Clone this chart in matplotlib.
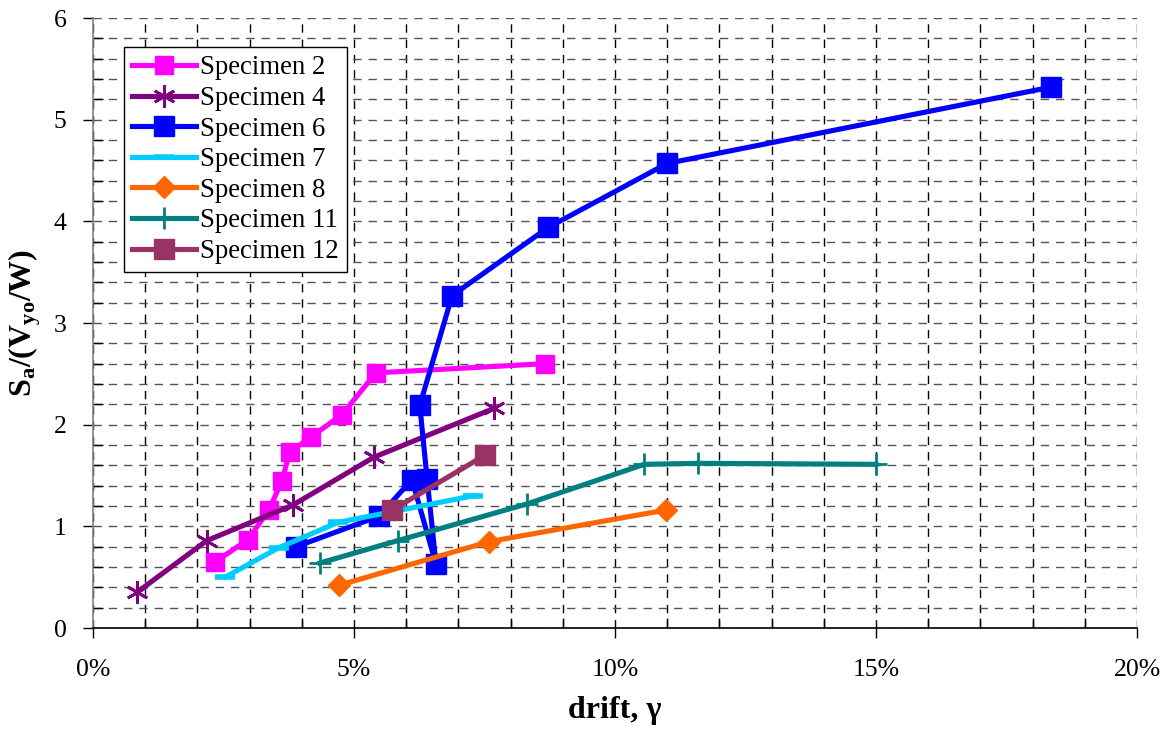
import matplotlib
matplotlib.use("Agg")
import matplotlib.pyplot as plt
from matplotlib.ticker import MultipleLocator, FuncFormatter

plt.rcParams['font.family'] = ['Liberation Serif', 'DejaVu Serif']
plt.rcParams['mathtext.fontset'] = 'custom'
plt.rcParams['mathtext.rm'] = 'Liberation Serif'
plt.rcParams['mathtext.bf'] = 'Liberation Serif:bold'

# drift in %, strength ratio
spec2_x = [2.34, 2.97, 3.37, 3.62, 3.77, 4.18, 4.77, 5.42, 8.66]
spec2_y = [0.65, 0.87, 1.16, 1.45, 1.73, 1.88, 2.10, 2.51, 2.60]
spec4_x = [0.84, 2.18, 3.83, 5.38, 7.68]
spec4_y = [0.35, 0.86, 1.21, 1.68, 2.16]
spec6_x = [3.89, 5.48, 6.11, 6.57, 6.40, 6.26, 6.88, 8.72, 11.0, 18.35]
spec6_y = [0.80, 1.10, 1.46, 0.63, 1.47, 2.19, 3.27, 3.94, 4.57, 5.32]
spec7_x = [2.53, 3.56, 4.70, 7.28]
spec7_y = [0.50, 0.79, 1.04, 1.30]
spec8_x = [4.71, 7.59, 10.97]
spec8_y = [0.42, 0.85, 1.16]
spec11_x = [4.35, 5.84, 8.31, 10.56, 11.59, 15.0]
spec11_y = [0.64, 0.86, 1.22, 1.61, 1.62, 1.61]
spec12_x = [5.73, 7.51]
spec12_y = [1.16, 1.70]

fig = plt.figure(figsize=(11.67, 7.3), dpi=100)
ax = fig.add_axes([0.0797, 0.1397, 0.8946, 0.8356])

lw = 3.7
ax.plot(spec2_x, spec2_y, color='#FF00FF', lw=lw, marker='s', ms=13.5, label='Specimen 2', zorder=5)
ax.plot(spec4_x, spec4_y, color='#800080', lw=lw, marker=(6, 2, 0), ms=16, mew=2, label='Specimen 4', zorder=5)
ax.plot(spec6_x, spec6_y, color='#0000FF', lw=lw, marker='s', ms=15, label='Specimen 6', zorder=5)
ax.plot(spec7_x, spec7_y, color='#00CCFF', lw=lw, marker='_', ms=14, mew=4, label='Specimen 7', zorder=5)
ax.plot(spec8_x, spec8_y, color='#FF6600', lw=lw, marker='D', ms=11, label='Specimen 8', zorder=5)
ax.plot(spec11_x, spec11_y, color='#008080', lw=lw, marker='+', ms=16, mew=2, label='Specimen 11', zorder=5)
ax.plot(spec12_x, spec12_y, color='#993366', lw=lw, marker='s', ms=15, label='Specimen 12', zorder=5)

ax.set_xlim(0, 20)
ax.set_ylim(0, 6)
ax.xaxis.set_major_locator(MultipleLocator(5))
ax.xaxis.set_minor_locator(MultipleLocator(1))
ax.yaxis.set_major_locator(MultipleLocator(1))
ax.yaxis.set_minor_locator(MultipleLocator(0.2))
ax.xaxis.set_major_formatter(FuncFormatter(lambda v, p: f"{v:.0f}%"))

ax.grid(True, which='both', axis='x', color='black', ls=(0, (6, 5)), lw=1)
ax.grid(True, which='both', axis='y', color='#555555', ls=(0, (6, 5)), lw=1)
ax.set_axisbelow(True)

for s in ['top', 'right']:
    ax.spines[s].set_visible(False)
ax.spines['left'].set_color('#808080')
ax.spines['left'].set_linewidth(1.2)
ax.spines['bottom'].set_color('black')
ax.spines['bottom'].set_linewidth(1.2)

ax.tick_params(which='major', direction='out', length=7, width=1, labelsize=18.5, pad=12)
ax.tick_params(which='minor', direction='in', length=7, width=1)
ax.tick_params(axis='x', which='major', pad=15)

ax.set_xlabel('drift, γ', fontsize=23, fontweight='bold', labelpad=11)
ax.set_ylabel(r'$\mathbf{S_a/(V_{yo}/W)}$', fontsize=23, labelpad=8)

leg = ax.legend(loc='upper left', bbox_to_anchor=(0.0297, 0.952), fontsize=19.3,
                frameon=True, fancybox=False, edgecolor='black', framealpha=1,
                handlelength=2.4, handletextpad=0.15, borderpad=0.3, labelspacing=0.21,
                borderaxespad=0)
leg.get_frame().set_linewidth(1)

fig.savefig('out.png', dpi=100)
